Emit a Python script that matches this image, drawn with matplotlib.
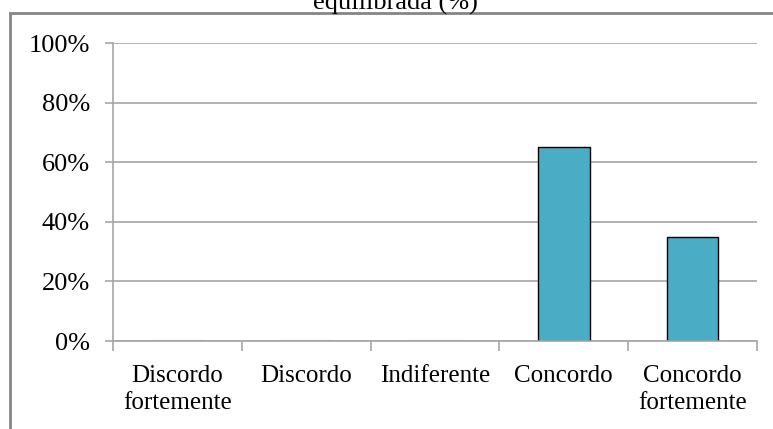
import numpy as np
import matplotlib
matplotlib.use("Agg")
import matplotlib.pyplot as plt
from matplotlib.patches import Rectangle

categories = ["Discordo\nfortemente", "Discordo", "Indiferente", "Concordo", "Concordo\nfortemente"]
values = [0, 0, 0, 65, 35]
yticks = [0, 20, 40, 60, 80, 100]
title = "equilibrada (%)"

plt.rcParams['font.family'] = ['Liberation Serif', 'DejaVu Serif']
plt.rcParams['font.size'] = 19

fig = plt.figure(figsize=(7.73, 4.29), dpi=100)
ax = fig.add_axes([113 / 773, 1 - 341 / 429, (757 - 113) / 773, (341 - 43) / 429])

x = np.arange(len(categories))
# zorder below the spines so empty bars don't leave a dark line on the axis
ax.bar(x, values, width=0.4, color="#4BACC6", edgecolor="black", linewidth=1, zorder=2)

ax.set_xlim(-0.5, len(categories) - 0.5)
ax.set_ylim(0, 100)
ax.set_yticks(yticks)
ax.set_yticklabels([f"{v}%" for v in yticks])
ax.yaxis.grid(True, color="#a6a6a6", linewidth=1.2)
ax.set_axisbelow(True)

# boundary ticks without labels, labels at the centres
ax.set_xticks(np.arange(len(categories) + 1) - 0.5)
ax.set_xticklabels([])
ax.set_xticks(x, minor=True)
ax.set_xticklabels(categories, minor=True, linespacing=1.33, fontsize=18)
ax.tick_params(axis="x", which="major", length=7.5, width=1.2, color="#a6a6a6", direction="out")
ax.tick_params(axis="x", which="minor", length=0, pad=17)
ax.tick_params(axis="y", length=5.8, width=1.2, color="#a6a6a6", pad=10.8)

for s in ["top", "right"]:
    ax.spines[s].set_visible(False)
for s in ["left", "bottom"]:
    ax.spines[s].set_color("#a6a6a6")
    ax.spines[s].set_linewidth(1.2)
    ax.spines[s].set_zorder(2.5)

# outer chart frame, partly cut off by the image edge
fig.patches.append(Rectangle((10 / 773, -0.1), 1.2, 1 - 13 / 429 + 0.1,
                             transform=fig.transFigure, fill=False,
                             edgecolor="#858585", linewidth=2))

fig.text(395 / 773, 1 - 9.5 / 429, title, ha="center", va="baseline", fontsize=19)

fig.savefig("out.png", dpi=100)
